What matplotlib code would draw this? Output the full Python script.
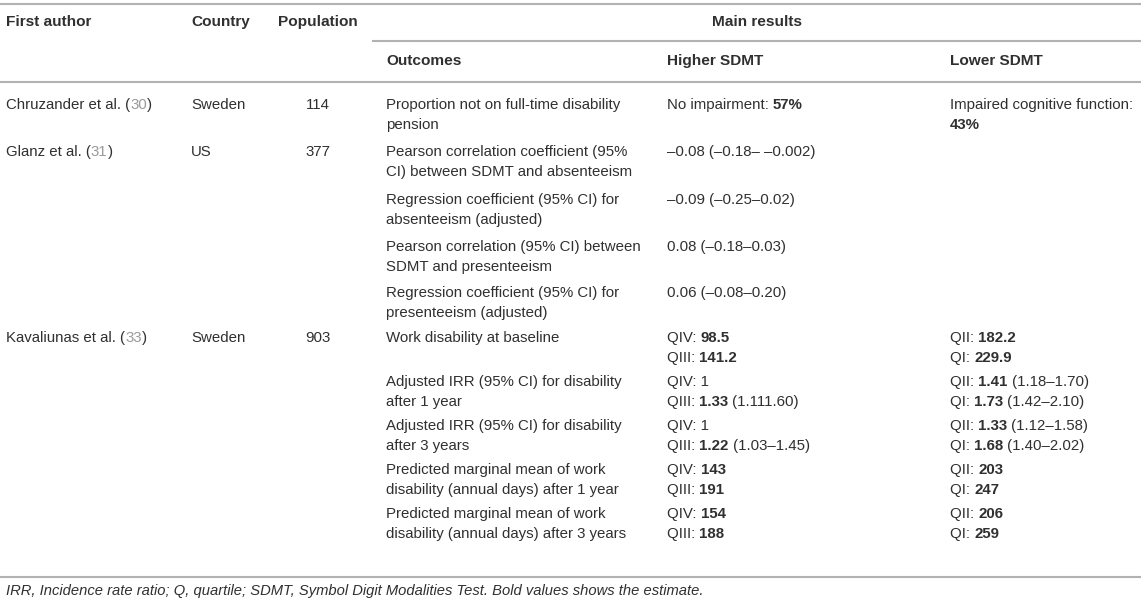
import matplotlib
matplotlib.use("Agg")
import matplotlib.pyplot as plt

plt.rcParams['font.family'] = ['Liberation Sans', 'DejaVu Sans']

# table content
header_cols = ["First author", "Country", "Population"]
sub_cols = ["Outcomes", "Higher SDMT", "Lower SDMT"]
group_title = "Main results"

authors = ["Chruzander et al.", "Glanz et al.", "Kavaliunas et al."]
refs = ["30", "31", "33"]
countries = ["Sweden", "US", "Sweden"]
populations = [114, 377, 903]

study_idx = [0, 1, 1, 1, 1, 2, 2, 2, 2, 2]
outcomes = [
    "Proportion not on full-time disability\npension",
    "Pearson correlation coefficient (95%\nCI) between SDMT and absenteeism",
    "Regression coefficient (95% CI) for\nabsenteeism (adjusted)",
    "Pearson correlation (95% CI) between\nSDMT and presenteeism",
    "Regression coefficient (95% CI) for\npresenteeism (adjusted)",
    "Work disability at baseline",
    "Adjusted IRR (95% CI) for disability\nafter 1 year",
    "Adjusted IRR (95% CI) for disability\nafter 3 years",
    "Predicted marginal mean of work\ndisability (annual days) after 1 year",
    "Predicted marginal mean of work\ndisability (annual days) after 3 years",
]
higher = [
    "No impairment: **57%**",
    "\u20130.08 (\u20130.18\u2013 \u20130.002)",
    "\u20130.09 (\u20130.25\u20130.02)",
    "0.08 (\u20130.18\u20130.03)",
    "0.06 (\u20130.08\u20130.20)",
    "QIV: **98.5**\nQIII: **141.2**",
    "QIV: 1\nQIII: **1.33** (1.111.60)",
    "QIV: 1\nQIII: **1.22** (1.03\u20131.45)",
    "QIV: **143**\nQIII: **191**",
    "QIV: **154**\nQIII: **188**",
]
lower = [
    "Impaired cognitive function:\n**43%**",
    "", "", "", "",
    "QII: **182.2**\nQI: **229.9**",
    "QII: **1.41** (1.18\u20131.70)\nQI: **1.73** (1.42\u20132.10)",
    "QII: **1.33** (1.12\u20131.58)\nQI: **1.68** (1.40\u20132.02)",
    "QII: **203**\nQI: **247**",
    "QII: **206**\nQI: **259**",
]
footnote = ("IRR, Incidence rate ratio; Q, quartile; SDMT, Symbol Digit Modalities Test. "
            "Bold values shows the estimate.")

W, H = 1145, 605
fig = plt.figure(figsize=(W / 100, H / 100), dpi=100)
ax = fig.add_axes([0, 0, 1, 1])
ax.set_xlim(0, W)
ax.set_ylim(H, 0)
ax.axis('off')

FS = 10.8      # body text
FSH = 11.1     # header text
TXT = '#303030'
GRID = '#b2b2b2'
LINE_H = 20.3
col_x = [6, 191, 317.5, 386, 667, 950]
head_x = [6, 191, 278]
RIGHT = 1141

renderer = fig.canvas.get_renderer()


def rich(x, y, s, color=TXT):
    # draws text with **bold** pieces, one line after another
    for k, line in enumerate(s.split("\n")):
        cx = x
        for j, part in enumerate(line.split("**")):
            if not part:
                continue
            bold = j % 2 == 1
            t = ax.text(cx, y + k * LINE_H, part, fontsize=FS, color=color,
                        fontweight='bold' if bold else 'normal', va='center')
            cx += t.get_window_extent(renderer).width


def hline(y, x0=0, x1=RIGHT):
    ax.plot([x0, x1], [y, y], color=GRID, lw=1.5, solid_capstyle='butt')


hline(4)
hline(41, 372)
hline(82)
hline(577)

for x, lab in zip(head_x, header_cols):
    ax.text(x, 22, lab, fontsize=FSH, fontweight='bold', color=TXT, va='center')
ax.text(712, 22, group_title, fontsize=FSH, fontweight='bold', color=TXT, va='center')
for x, lab in zip(col_x[3:], sub_cols):
    ax.text(x, 61, lab, fontsize=FSH, fontweight='bold', color=TXT, va='center')

row_y = [105, 152, 200, 247, 293, 338, 382, 426, 470, 514]
shown = set()
for i, y in enumerate(row_y):
    s = study_idx[i]
    if s not in shown:
        shown.add(s)
        t = ax.text(col_x[0], y, authors[s] + " (", fontsize=FS, color=TXT, va='center')
        cx = col_x[0] + t.get_window_extent(renderer).width
        t = ax.text(cx, y, refs[s], fontsize=FS, color='#9a9a9a', va='center')
        cx += t.get_window_extent(renderer).width
        ax.text(cx, y, ")", fontsize=FS, color=TXT, va='center')
        ax.text(col_x[1], y, countries[s], fontsize=FS, color=TXT, va='center')
        ax.text(col_x[2], y, str(populations[s]), fontsize=FS, color=TXT,
                va='center', ha='center')
    rich(col_x[3], y, outcomes[i])
    rich(col_x[4], y, higher[i])
    rich(col_x[5], y, lower[i])

ax.text(6, 591, footnote, fontsize=10.6, style='italic', color=TXT, va='center')

fig.savefig("out.png", dpi=100)
